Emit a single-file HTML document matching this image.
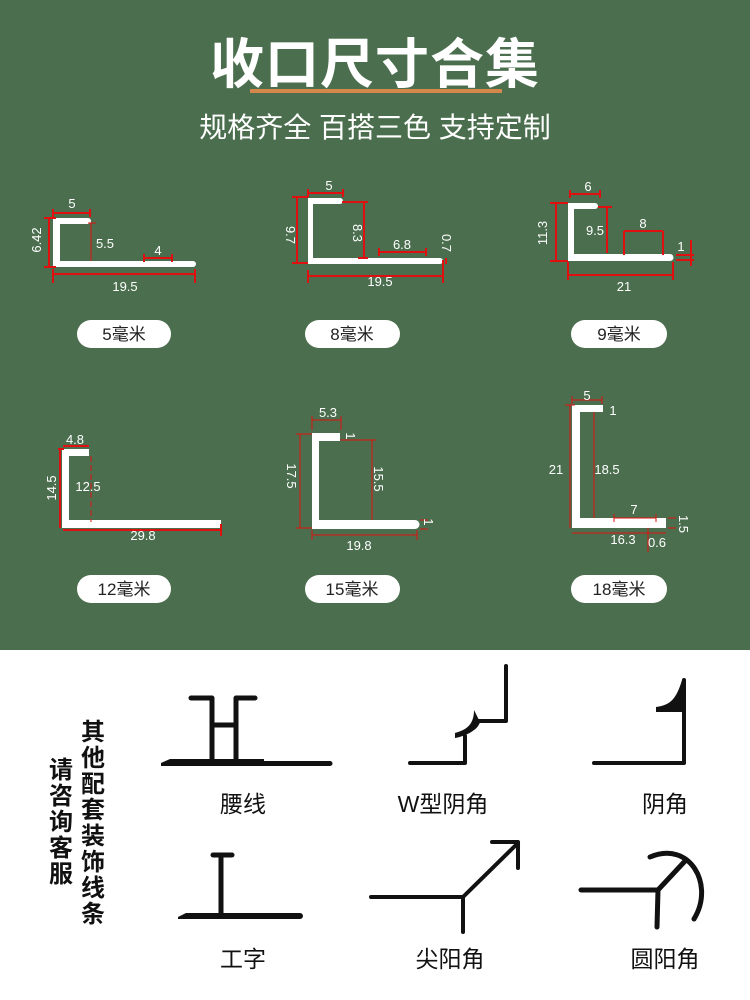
<!DOCTYPE html>
<html><head><meta charset="utf-8"><style>
html,body{margin:0;padding:0;width:750px;height:1000px;overflow:hidden;background:#fff}
svg{display:block}
text{font-family:"Liberation Sans","Noto Sans CJK SC",sans-serif}
.w{fill:#fff}
.r{stroke:#e01010;stroke-width:2;fill:none}
.rt{stroke:#e01010;stroke-width:1;fill:none}
.d{fill:#fff;font-size:13px;text-anchor:middle}
.p{fill:#222;font-size:17px;text-anchor:middle}
.k{stroke:#111;fill:none;stroke-width:5;stroke-linecap:round;stroke-linejoin:round}
.lb{fill:#111;font-size:23px;text-anchor:middle}
</style></head><body>
<svg width="750" height="1000" viewBox="0 0 750 1000">
<rect x="0" y="0" width="750" height="650" fill="#4b6f4e"/>
<text x="375" y="83" fill="#fff" font-size="54" font-weight="bold" text-anchor="middle" style="letter-spacing:1px">收口尺寸合集</text>
<rect x="250" y="89" width="252" height="4" fill="#d4894a"/>
<text x="375" y="137" fill="#fff" font-size="28" text-anchor="middle">规格齐全 百搭三色 支持定制</text>

<!-- 5mm -->
<path class="w" d="M53 218 H88 a3 3 0 0 1 0 6 H60 V261 H193 a3 3 0 0 1 0 6 H53 Z"/>
<path class="r" d="M49 218 V267 M44 218 H56 M44 267 H56 M53 213 H90 M53 209 V217 M90 209 V217 M144 258 H172 M144 254 V262 M172 254 V262 M53 274 H195 M53 269 V283 M195 269 V283"/>
<path class="rt" d="M91 223 V261 M88 223 H96"/>
<text class="d" x="72" y="208">5</text>
<text class="d" x="37" y="240" transform="rotate(-90 37 240)" dy="4">6.42</text>
<text class="d" x="105" y="248">5.5</text>
<text class="d" x="158" y="255">4</text>
<text class="d" x="125" y="291">19.5</text>

<!-- 8mm -->
<path class="w" d="M308 198 H340 a3 3 0 0 1 0 6 H313 V258 H440 a3 3 0 0 1 0 6 H308 Z"/>
<path class="r" d="M297 197 V263 M292 197 H308 M292 263 H308 M308 193 H343 M308 189 V197 M343 189 V197 M364 202 V258 M342 202 H368 M358 258 H368 M379 252 H426 M379 248 V256 M426 248 V256 M308 276 H443 M308 270 V283 M443 260 V283 M446 258 V264"/>
<text class="d" x="329" y="190">5</text>
<text class="d" x="290" y="235" transform="rotate(90 290 235)" dy="4">9.7</text>
<text class="d" x="357" y="233" transform="rotate(90 357 233)" dy="4">8.3</text>
<text class="d" x="402" y="249">6.8</text>
<text class="d" x="446" y="243" transform="rotate(90 446 243)" dy="4">0.7</text>
<text class="d" x="380" y="286">19.5</text>

<!-- 9mm -->
<path class="w" d="M568 203 H595 a3 3 0 0 1 0 6 H574 V254 H670 a3 3 0 0 1 0 7 H568 Z"/>
<path class="r" d="M556 203 V261 M550 203 H568 M550 261 H568 M570 194 H600 M570 190 V198 M600 190 V198 M607 207 V253 M598 207 H612 M624 231 H663 M624 231 V255 M663 231 V255 M568 275 H673 M568 262 V280 M673 262 V280 M676 255 H694 M676 260 H694 M691 240 V266"/>
<text class="d" x="588" y="191">6</text>
<text class="d" x="543" y="233" transform="rotate(-90 543 233)" dy="4">11.3</text>
<text class="d" x="595" y="235">9.5</text>
<text class="d" x="643" y="228">8</text>
<text class="d" x="681" y="251">1</text>
<text class="d" x="624" y="291">21</text>

<!-- 12mm -->
<path class="w" d="M62 449 H89 V456 H69 V520 H221 V528 H62 Z"/>
<path class="r" d="M60 449 V528 M58 449 H64 M63 530 H221 M221 524 V536 M63 446 H89"/>
<path class="rt" d="M91 456 V522" stroke-dasharray="6 3"/>
<text class="d" x="75" y="444">4.8</text>
<text class="d" x="52" y="488" transform="rotate(-90 52 488)" dy="4">14.5</text>
<text class="d" x="88" y="491">12.5</text>
<text class="d" x="143" y="540">29.8</text>

<!-- 15mm -->
<path class="w" d="M312 433 H340 V441 H319 V520 H415 a3 3 0 0 1 0 9 H312 Z"/>
<path class="rt" d="M300 434 V528 M296 434 H312 M296 528 H312 M372 440 V520 M340 440 H376 M312 420 H341 M312 416 V430 M341 416 V430 M312 535 H417 M312 530 V540 M417 530 V540 M420 520 H428 M420 529 H428"/>
<text class="d" x="328" y="417">5.3</text>
<text class="d" x="350" y="436" transform="rotate(90 350 436)" dy="4">1</text>
<text class="d" x="291" y="476" transform="rotate(90 291 476)" dy="4">17.5</text>
<text class="d" x="378" y="479" transform="rotate(90 378 479)" dy="4">15.5</text>
<text class="d" x="428" y="522" transform="rotate(90 428 522)" dy="4">1</text>
<text class="d" x="359" y="550">19.8</text>

<!-- 18mm -->
<path class="w" d="M572 405 H603 V412 H580 V518 H666 V528 H572 Z"/>
<path class="rt" d="M570 405 V528 M565 405 H575 M572 400 H602 M572 396 V404 M602 396 V404 M594 412 V518 M614 518 H656 M614 514 V522 M656 514 V522 M572 533 H666 M668 518 H676 M668 528 H676 M648 528 V552"/>
<text class="d" x="587" y="400">5</text>
<text class="d" x="613" y="415">1</text>
<text class="d" x="556" y="474">21</text>
<text class="d" x="607" y="474">18.5</text>
<text class="d" x="634" y="514">7</text>
<text class="d" x="683" y="524" transform="rotate(90 683 524)" dy="4">1.5</text>
<text class="d" x="623" y="544">16.3</text>
<text class="d" x="657" y="547">0.6</text>

<!-- pills -->
<g fill="#fff">
<rect x="77" y="320" width="94" height="28" rx="14"/>
<rect x="305" y="320" width="95" height="28" rx="14"/>
<rect x="571" y="320" width="96" height="28" rx="14"/>
<rect x="77" y="575" width="94" height="28" rx="14"/>
<rect x="305" y="575" width="95" height="28" rx="14"/>
<rect x="571" y="575" width="96" height="28" rx="14"/>
</g>
<text class="p" x="124" y="340">5毫米</text>
<text class="p" x="352" y="340">8毫米</text>
<text class="p" x="619" y="340">9毫米</text>
<text class="p" x="124" y="595">12毫米</text>
<text class="p" x="352" y="595">15毫米</text>
<text class="p" x="619" y="595">18毫米</text>

<!-- bottom section -->
<g fill="#111" font-size="24" font-weight="bold" text-anchor="middle">
<text x="93" y="740">其</text><text x="93" y="766">他</text><text x="93" y="792">配</text><text x="93" y="818">套</text>
<text x="93" y="844">装</text><text x="93" y="870">饰</text><text x="93" y="896">线</text><text x="93" y="922">条</text>
<text x="61" y="778">请</text><text x="61" y="804">咨</text><text x="61" y="830">询</text><text x="61" y="856">客</text><text x="61" y="882">服</text>
</g>

<!-- 腰线 -->
<path class="k" d="M191 698 H212 V761 M236 761 V698 H255 M212 725 H236"/>
<path d="M161 763 L170 759 H264 V761 H330 a2.5 2.5 0 0 1 0 5 H161 Z" fill="#111"/>
<!-- W型阴角 -->
<path class="k" style="stroke-width:4" d="M506 666 V721 H476 M465 736 V763 H410"/>
<path d="M474 710 C474 725 466 730 455 733 L455 738 C466 736 478 730 480 722 Z" fill="#111"/>
<!-- 阴角 -->
<path class="k" style="stroke-width:4" d="M684 680 V763 H594"/>
<path d="M682 680 C676 700 670 705 656 707 V712 H684 Z" fill="#111"/>
<!-- 工字 -->
<path class="k" d="M213 855 H232 M221 855 V914"/>
<path d="M178 917 L186 913 H300 a3 3 0 0 1 0 6 H178 Z" fill="#111"/>
<!-- 尖阳角 -->
<path class="k" style="stroke-width:4" d="M371 897 H463 V932 M463 897 L518 843 M492 842 H518 V868"/>
<!-- 圆阳角 -->
<path class="k" d="M581 890 H658 L657 927 M658 890 L686 860 M650 857 C690 840 715 885 694 919"/>

<text class="lb" x="243" y="812">腰线</text>
<text class="lb" x="443" y="812">W型阴角</text>
<text class="lb" x="665" y="812">阴角</text>
<text class="lb" x="243" y="967">工字</text>
<text class="lb" x="450" y="967">尖阳角</text>
<text class="lb" x="665" y="967">圆阳角</text>
</svg>
</body></html>
